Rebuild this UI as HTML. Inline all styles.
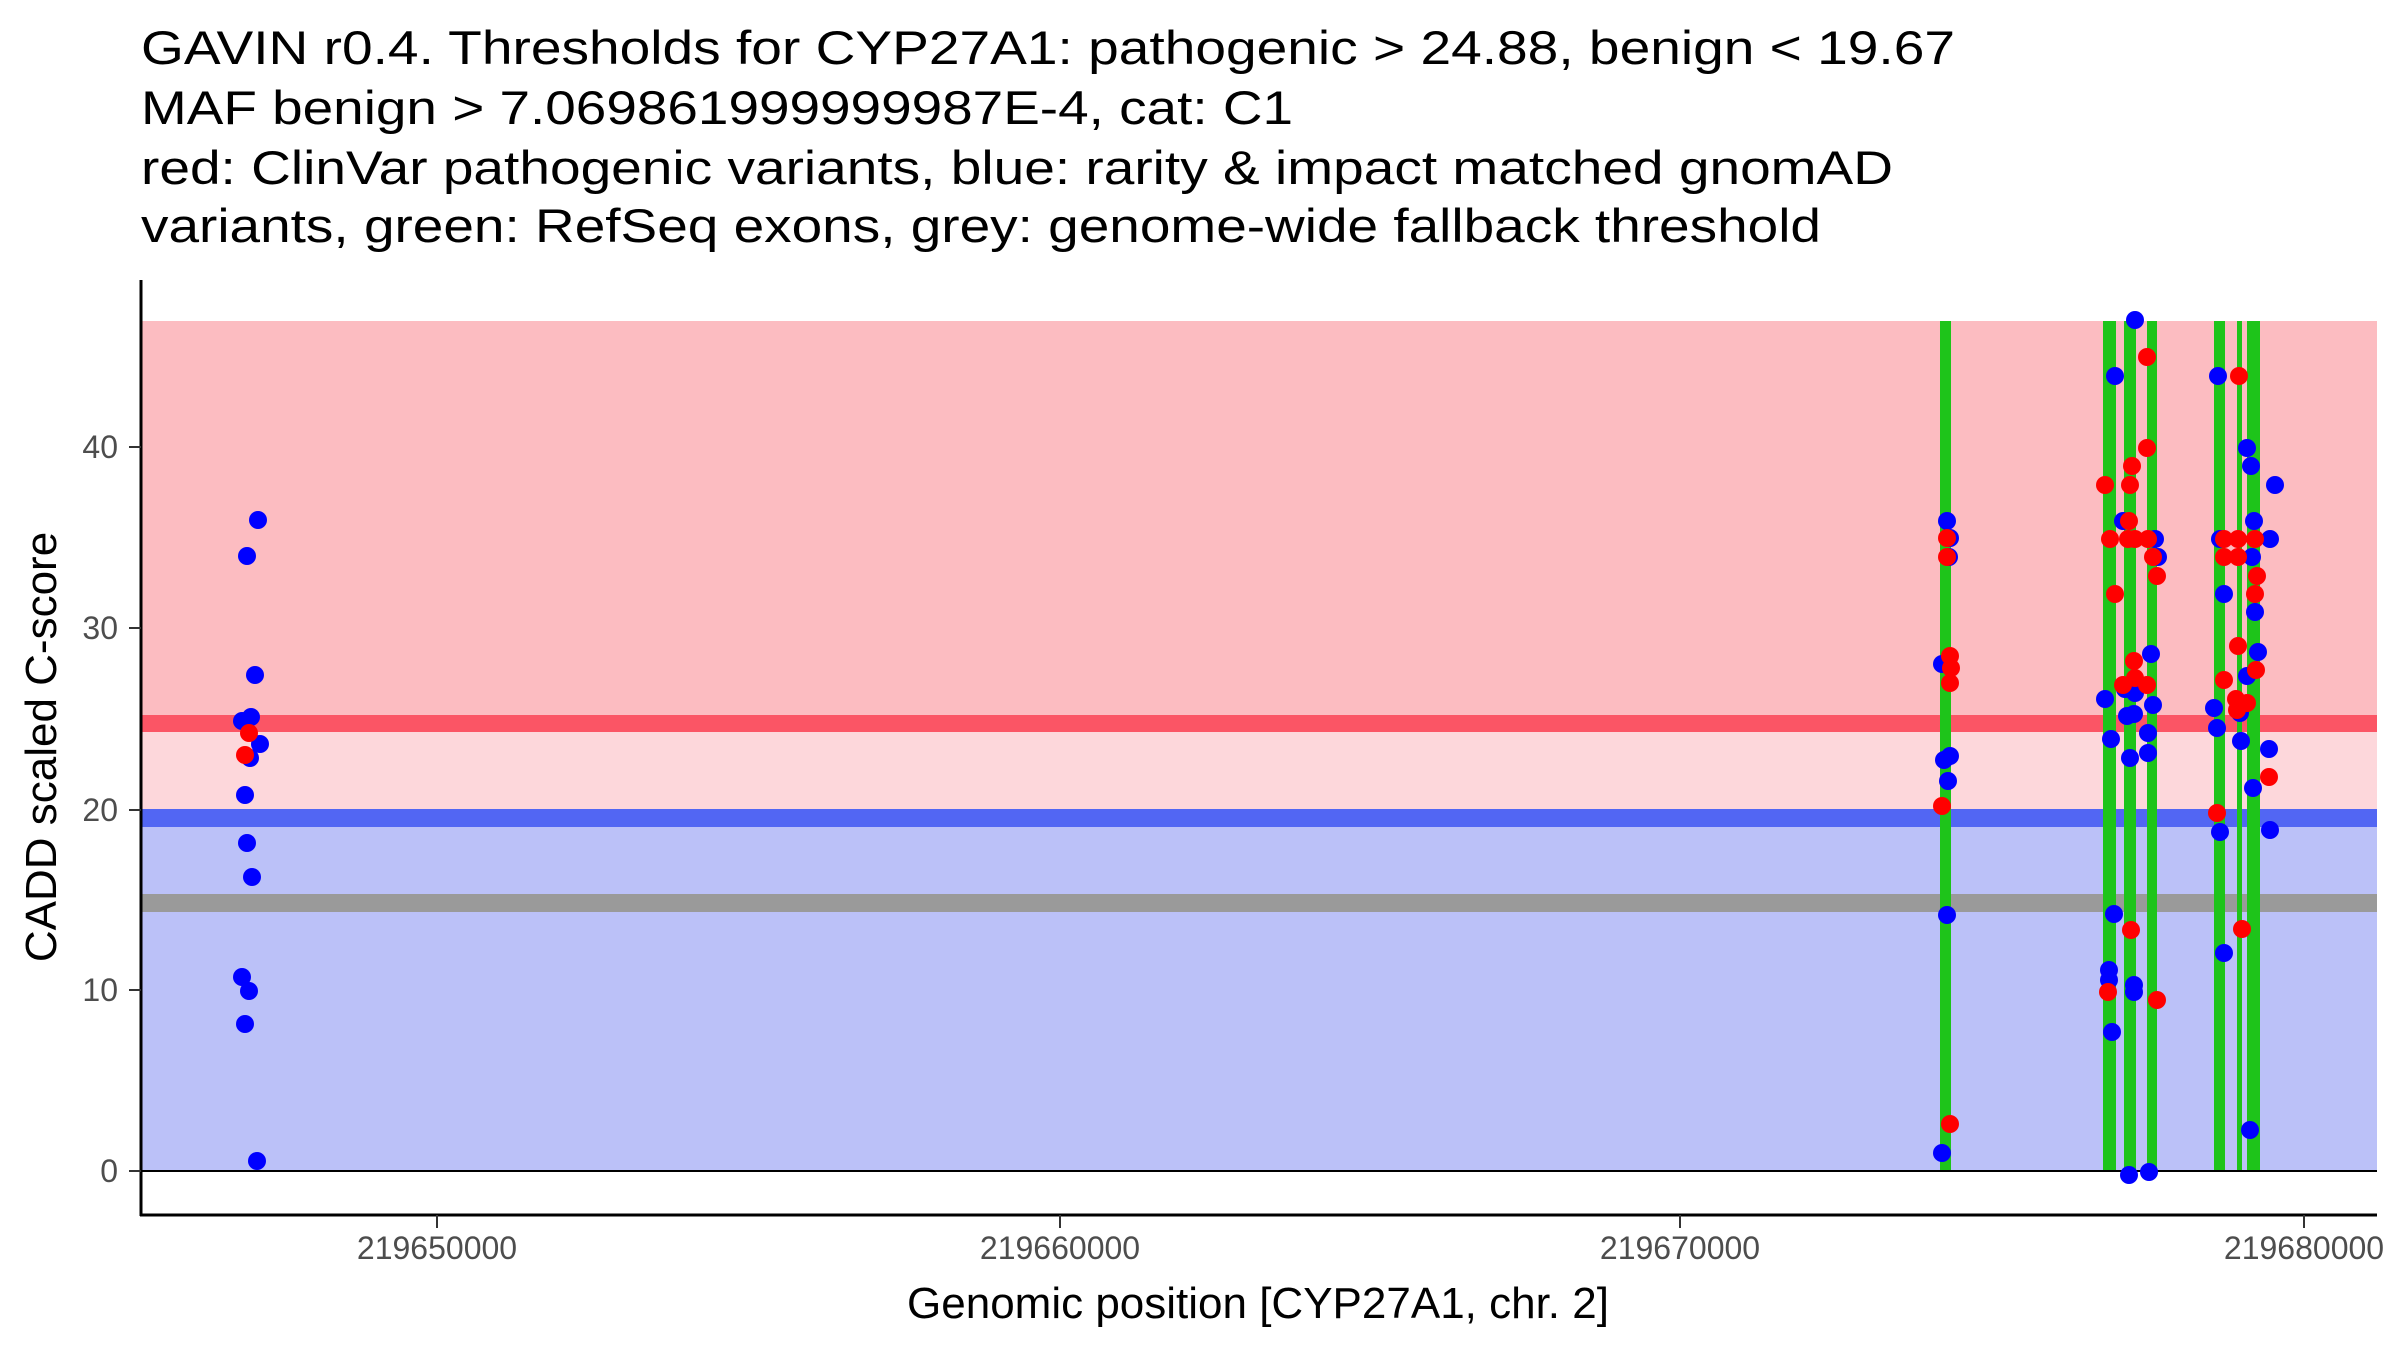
<!DOCTYPE html>
<html><head><meta charset="utf-8"><style>html,body{margin:0;padding:0;background:#fff}svg{display:block}</style></head><body>
<svg width="2400" height="1350" viewBox="0 0 2400 1350" xmlns="http://www.w3.org/2000/svg" font-family="Liberation Sans, sans-serif">
<rect width="2400" height="1350" fill="#fff"/>
<g font-size="47" fill="#000">
<text x="141" y="64" textLength="1814" lengthAdjust="spacingAndGlyphs">GAVIN r0.4. Thresholds for CYP27A1: pathogenic &gt; 24.88, benign &lt; 19.67</text>
<text x="141" y="124" textLength="1152" lengthAdjust="spacingAndGlyphs">MAF benign &gt; 7.069861999999987E-4, cat: C1</text>
<text x="141" y="184" textLength="1752" lengthAdjust="spacingAndGlyphs">red: ClinVar pathogenic variants, blue: rarity &amp; impact matched gnomAD</text>
<text x="141" y="242" textLength="1680" lengthAdjust="spacingAndGlyphs">variants, green: RefSeq exons, grey: genome-wide fallback threshold</text>
</g>
<rect x="141" y="321" width="2236" height="403" fill="#fcbcc1"/>
<rect x="141" y="724" width="2236" height="94" fill="#fdd7db"/>
<rect x="141" y="818" width="2236" height="353" fill="#bbc1f8"/>
<rect x="141" y="715" width="2236" height="17" fill="#fb5565"/>
<rect x="141" y="809" width="2236" height="18" fill="#5266f3"/>
<rect x="141" y="894" width="2236" height="18" fill="#9a9a9a"/>
<g fill="#1ec41a">
<rect x="1940" y="321" width="11" height="850"/>
<rect x="2103" y="321" width="13" height="850"/>
<rect x="2124" y="321" width="12" height="850"/>
<rect x="2147" y="321" width="10" height="850"/>
<rect x="2214" y="321" width="11" height="850"/>
<rect x="2237" y="321" width="5" height="850"/>
<rect x="2247" y="321" width="13" height="850"/>
</g>
<line x1="141" y1="1171" x2="2377" y2="1171" stroke="#000" stroke-width="2"/>
<g fill="#0000ff">
<circle cx="258" cy="520" r="9"/><circle cx="247" cy="556" r="9"/><circle cx="255" cy="675" r="9"/><circle cx="242" cy="721" r="9"/><circle cx="251" cy="717" r="9"/><circle cx="260" cy="744" r="9"/><circle cx="250" cy="758" r="9"/><circle cx="245" cy="795" r="9"/><circle cx="247" cy="843" r="9"/><circle cx="252" cy="877" r="9"/><circle cx="242" cy="977" r="9"/><circle cx="249" cy="991" r="9"/><circle cx="245" cy="1024" r="9"/><circle cx="257" cy="1161" r="9"/>
<circle cx="1947" cy="521" r="9"/><circle cx="1950" cy="538" r="9"/><circle cx="1949" cy="557" r="9"/><circle cx="1942" cy="664" r="9"/><circle cx="1944" cy="760" r="9"/><circle cx="1950" cy="756" r="9"/><circle cx="1948" cy="781" r="9"/><circle cx="1947" cy="915" r="9"/><circle cx="1942" cy="1153" r="9"/>
<circle cx="2135" cy="320" r="9"/><circle cx="2115" cy="376" r="9"/><circle cx="2123" cy="521" r="9"/><circle cx="2155" cy="539" r="9"/><circle cx="2158" cy="557" r="9"/><circle cx="2151" cy="654" r="9"/><circle cx="2125" cy="689" r="9"/><circle cx="2135" cy="693" r="9"/><circle cx="2105" cy="699" r="9"/><circle cx="2153" cy="705" r="9"/><circle cx="2127" cy="716" r="9"/><circle cx="2134" cy="714" r="9"/><circle cx="2111" cy="739" r="9"/><circle cx="2148" cy="733" r="9"/><circle cx="2130" cy="758" r="9"/><circle cx="2148" cy="753" r="9"/><circle cx="2114" cy="914" r="9"/><circle cx="2109" cy="970" r="9"/><circle cx="2109" cy="980" r="9"/><circle cx="2134" cy="985" r="9"/><circle cx="2134" cy="992" r="9"/><circle cx="2112" cy="1032" r="9"/><circle cx="2129" cy="1175" r="9"/><circle cx="2149" cy="1172" r="9"/>
<circle cx="2218" cy="376" r="9"/><circle cx="2247" cy="448" r="9"/><circle cx="2251" cy="466" r="9"/><circle cx="2275" cy="485" r="9"/><circle cx="2254" cy="521" r="9"/><circle cx="2220" cy="539" r="9"/><circle cx="2270" cy="539" r="9"/><circle cx="2252" cy="557" r="9"/><circle cx="2224" cy="594" r="9"/><circle cx="2255" cy="612" r="9"/><circle cx="2258" cy="652" r="9"/><circle cx="2247" cy="676" r="9"/><circle cx="2240" cy="713" r="9"/><circle cx="2214" cy="708" r="9"/><circle cx="2217" cy="728" r="9"/><circle cx="2241" cy="741" r="9"/><circle cx="2269" cy="749" r="9"/><circle cx="2253" cy="788" r="9"/><circle cx="2220" cy="832" r="9"/><circle cx="2270" cy="830" r="9"/><circle cx="2224" cy="953" r="9"/><circle cx="2250" cy="1130" r="9"/>
</g>
<g fill="#ff0000">
<circle cx="249" cy="733" r="9"/><circle cx="245" cy="755" r="9"/>
<circle cx="1947" cy="538" r="9"/><circle cx="1947" cy="557" r="9"/><circle cx="1950" cy="656" r="9"/><circle cx="1951" cy="668" r="9"/><circle cx="1950" cy="683" r="9"/><circle cx="1942" cy="806" r="9"/><circle cx="1950" cy="1124" r="9"/>
<circle cx="2147" cy="357" r="9"/><circle cx="2147" cy="448" r="9"/><circle cx="2132" cy="466" r="9"/><circle cx="2105" cy="485" r="9"/><circle cx="2130" cy="485" r="9"/><circle cx="2129" cy="521" r="9"/><circle cx="2110" cy="539" r="9"/><circle cx="2128" cy="539" r="9"/><circle cx="2135" cy="539" r="9"/><circle cx="2148" cy="539" r="9"/><circle cx="2153" cy="557" r="9"/><circle cx="2157" cy="576" r="9"/><circle cx="2115" cy="594" r="9"/><circle cx="2134" cy="661" r="9"/><circle cx="2135" cy="678" r="9"/><circle cx="2123" cy="685" r="9"/><circle cx="2147" cy="685" r="9"/><circle cx="2131" cy="930" r="9"/><circle cx="2108" cy="992" r="9"/><circle cx="2157" cy="1000" r="9"/>
<circle cx="2239" cy="376" r="9"/><circle cx="2224" cy="539" r="9"/><circle cx="2238" cy="539" r="9"/><circle cx="2255" cy="539" r="9"/><circle cx="2224" cy="557" r="9"/><circle cx="2238" cy="557" r="9"/><circle cx="2257" cy="576" r="9"/><circle cx="2255" cy="594" r="9"/><circle cx="2238" cy="646" r="9"/><circle cx="2256" cy="670" r="9"/><circle cx="2224" cy="680" r="9"/><circle cx="2236" cy="699" r="9"/><circle cx="2247" cy="703" r="9"/><circle cx="2237" cy="710" r="9"/><circle cx="2269" cy="777" r="9"/><circle cx="2217" cy="813" r="9"/><circle cx="2242" cy="929" r="9"/>
</g>
<line x1="141" y1="280" x2="141" y2="1216" stroke="#000" stroke-width="3"/>
<line x1="140" y1="1215" x2="2377" y2="1215" stroke="#000" stroke-width="3"/>
<g stroke="#333" stroke-width="2">
<line x1="129" y1="447" x2="141" y2="447"/><line x1="129" y1="628" x2="141" y2="628"/><line x1="129" y1="810" x2="141" y2="810"/><line x1="129" y1="990" x2="141" y2="990"/><line x1="129" y1="1171" x2="141" y2="1171"/>
<line x1="437" y1="1215" x2="437" y2="1228"/><line x1="1060" y1="1215" x2="1060" y2="1228"/><line x1="1680" y1="1215" x2="1680" y2="1228"/><line x1="2304" y1="1215" x2="2304" y2="1228"/>
</g>
<g font-size="32" fill="#4d4d4d" text-anchor="end">
<text x="118" y="458">40</text><text x="118" y="639">30</text><text x="118" y="821">20</text><text x="118" y="1001">10</text><text x="118" y="1182">0</text>
</g>
<g font-size="32" fill="#4d4d4d" text-anchor="middle">
<text x="437" y="1259">219650000</text><text x="1060" y="1259">219660000</text><text x="1680" y="1259">219670000</text><text x="2304" y="1259">219680000</text>
</g>
<text x="1258" y="1318" font-size="44" text-anchor="middle" fill="#000">Genomic position [CYP27A1, chr. 2]</text>
<text transform="translate(56,747) rotate(-90)" font-size="44" text-anchor="middle" fill="#000">CADD scaled C-score</text>
</svg>
</body></html>
